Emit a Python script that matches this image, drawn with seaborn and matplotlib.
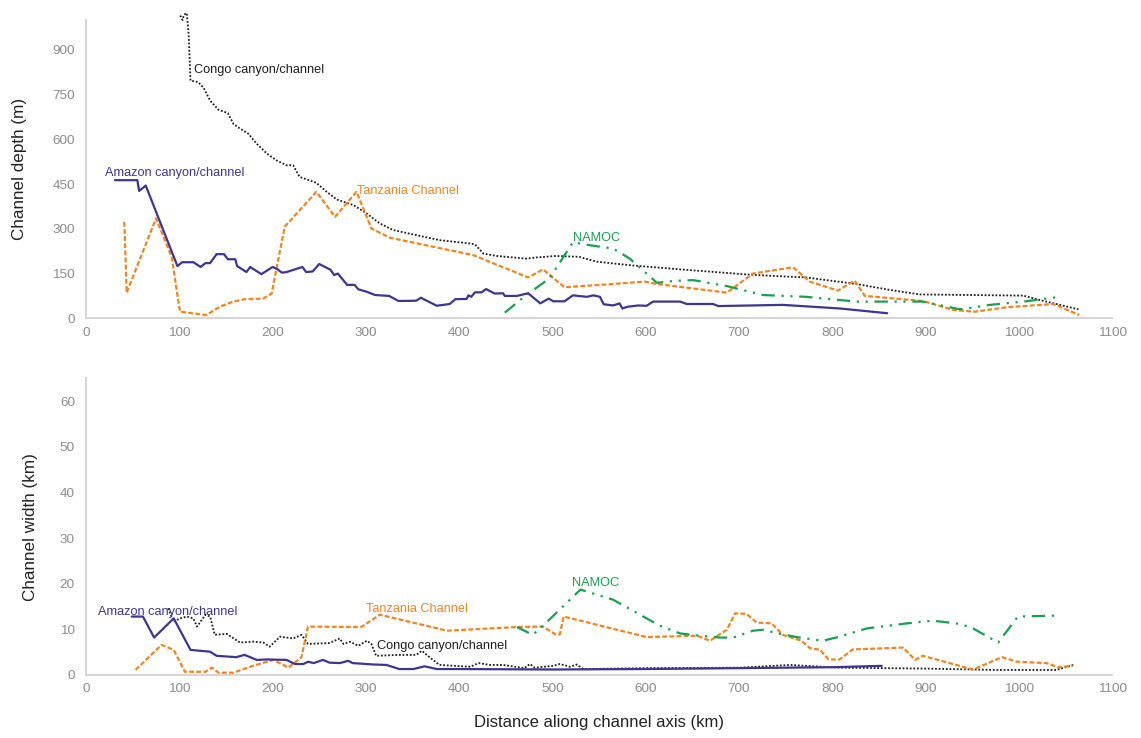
import matplotlib
matplotlib.use("Agg")
import matplotlib.pyplot as plt
import seaborn as sns
import pandas as pd

# ---------------- data ----------------
amazon_depth_x = [31, 55, 57, 64, 98, 103, 115, 123, 128, 133, 140, 148, 152, 160, 162, 172, 176, 188, 200, 205,
                  210, 215, 232, 236, 243, 250, 262, 266, 270, 280, 288, 292, 300, 310, 325, 335, 354, 359, 376, 390,
                  396, 408, 410, 413, 417, 424, 429, 438, 447, 449, 462, 474, 487, 496, 501, 513, 522, 537, 544, 551,
                  555, 565, 572, 575, 581, 592, 601, 608, 637, 644, 672, 678, 747, 808, 859]
amazon_depth_y = [463, 463, 427, 445, 175, 188, 188, 172, 185, 185, 215, 215, 198, 198, 175, 155, 172, 148, 172, 165,
                  153, 155, 172, 155, 157, 182, 163, 145, 150, 112, 112, 97, 90, 78, 75, 58, 59, 69, 42, 48,
                  64, 65, 77, 72, 87, 87, 98, 83, 84, 75, 75, 84, 50, 66, 57, 57, 77, 72, 77, 72,
                  47, 43, 50, 33, 39, 43, 42, 56, 56, 48, 48, 41, 45, 33, 17]

congo_depth_x = [101, 103.5, 105, 108, 110, 112, 120, 126, 133, 142, 152, 158, 165, 174, 183, 194, 204, 215, 222, 229,
                 247, 258, 269, 287, 301, 315, 329, 351, 379, 411, 417, 426, 440, 472, 483, 504, 529, 547, 583, 637,
                 683, 708, 737, 772, 826, 862, 894, 1005, 1023, 1064]
congo_depth_y = [1015, 1000, 1018, 1023, 954, 797, 792, 773, 730, 699, 688, 652, 636, 619, 585, 552, 530, 513, 513, 474,
                 454, 424, 398, 379, 351, 318, 296, 281, 262, 251, 248, 217, 209, 200, 204, 209, 206, 190, 178, 164,
                 153, 147, 142, 137, 115, 95, 80, 76, 61, 30]

tanzania_depth_x = [41, 43.6, 75, 92, 100.7, 129, 143.6, 158, 170, 190, 199, 213, 247, 267, 290, 306, 326, 415, 474, 490,
                    513, 565, 599, 612, 687, 715, 758, 776, 806, 824, 835, 897, 930, 953, 987, 1037, 1065]
tanzania_depth_y = [323, 86, 335, 204, 22, 11, 39, 56, 64, 66, 83, 307, 424, 340, 424, 301, 270, 212, 137, 164,
                    104, 115, 123, 115, 86, 150, 171, 123, 93, 126, 75, 58, 28, 22, 37, 48, 11]

namoc_depth_x = [449, 472, 497, 522, 540, 565, 583, 612, 633, 651, 687, 726, 772, 826, 897, 937, 969, 1005, 1044]
namoc_depth_y = [19, 78, 134, 255, 245, 234, 200, 119, 126, 128, 108, 78, 72, 56, 56, 30, 45, 56, 72]

amazon_width_x = [49, 61, 73, 94, 112, 133, 140, 161, 170, 183, 194, 215, 224, 233, 238, 244, 254, 261, 272, 281,
                  286, 308, 322, 336, 351, 363, 376, 400, 500, 600, 700, 800, 853]
amazon_width_y = [12.8, 12.8, 8.2, 12.4, 5.5, 5.1, 4.2, 3.9, 4.4, 3.3, 3.4, 3.3, 2.4, 2.4, 2.9, 2.6, 3.3, 2.7, 2.6, 3.1,
                  2.6, 2.3, 2.2, 1.3, 1.3, 1.9, 1.3, 1.3, 1.2, 1.3, 1.5, 1.7, 2.0]

congo_width_x = [88, 94, 101, 108, 115, 119, 128, 133, 138, 151, 165, 179, 190, 197, 208, 222, 231, 238, 261, 272,
                 276, 283, 292, 301, 306, 311, 336, 354, 360, 372, 379, 412, 421, 433, 447, 470, 476, 481, 501, 508,
                 519, 526, 533, 600, 701, 755, 808, 900, 976, 1040, 1060]
congo_width_y = [14.6, 11.7, 12.4, 12.8, 12.4, 10.6, 13.2, 12.8, 8.8, 9.0, 7.1, 7.3, 7.1, 6.2, 8.4, 8.0, 8.8, 6.8, 7.0, 8.0,
                 6.8, 7.3, 6.4, 7.5, 6.8, 4.2, 4.4, 4.4, 5.3, 3.3, 2.2, 1.8, 2.6, 2.2, 2.2, 1.5, 2.4, 1.6, 2.0, 2.4,
                 1.8, 2.3, 1.3, 1.5, 1.6, 2.2, 1.6, 1.4, 1.1, 1.1, 2.3]

tanzania_width_x = [53, 81, 94, 106, 128, 135, 142, 158, 179, 201, 217, 231, 238, 295, 315, 387, 462, 490, 504, 508,
                    512, 530, 601, 655, 669, 687, 696, 708, 719, 735, 747, 767, 776, 787, 796, 808, 822, 876, 889, 897,
                    951, 982, 998, 1030, 1042, 1058]
tanzania_width_y = [1.1, 6.6, 5.5, 0.7, 0.7, 1.6, 0.5, 0.5, 2.0, 3.3, 1.6, 3.9, 10.6, 10.5, 13.2, 9.7, 10.5, 10.6, 8.8, 8.9,
                    12.8, 11.9, 8.3, 8.6, 7.5, 9.9, 13.5, 13.4, 11.5, 11.3, 8.8, 7.5, 5.9, 5.5, 3.4, 3.4, 5.6, 6.0, 3.3, 4.2,
                    1.2, 3.9, 2.9, 2.6, 1.7, 2.0]

namoc_width_x = [462, 479, 490, 530, 565, 594, 615, 637, 658, 680, 694, 715, 726, 744, 765, 790, 808, 837, 880, 908,
                 937, 951, 978, 999, 1039]
namoc_width_y = [10.5, 8.8, 10.8, 18.7, 16.5, 13.2, 10.8, 9.1, 8.6, 8.2, 8.2, 9.7, 9.9, 9.0, 8.2, 7.5, 8.4, 10.2, 11.3, 11.9,
                 11.2, 10.2, 7.1, 12.8, 13.0]

depth_ticks = [0, 150, 300, 450, 600, 750, 900]
width_ticks = [0, 10, 20, 30, 40, 50, 60]
x_ticks = [0, 100, 200, 300, 400, 500, 600, 700, 800, 900, 1000, 1100]

label_amazon = "Amazon canyon/channel"
label_congo = "Congo canyon/channel"
label_tanzania = "Tanzania Channel"
label_namoc = "NAMOC"

# ---------------- style ----------------
sns.set_theme(style="white")
plt.rcParams['font.family'] = ['Liberation Sans', 'DejaVu Sans']

C_AMAZON = "#3d3592"
C_CONGO = "#1e1e1e"
C_TANZ = "#f4841f"
C_NAMOC = "#17a050"
GRID_GREY = "#d6d6d6"
TICK_GREY = "#8c8c8c"

styles = {
    "amazon": dict(color=C_AMAZON, lw=1.6, dashes=None),
    "congo": dict(color=C_CONGO, lw=1.3, dashes=(1.0, 1.0)),
    "tanz": dict(color=C_TANZ, lw=1.6, dashes=(2.2, 1.0)),
    "namoc": dict(color=C_NAMOC, lw=1.6, dashes=(6, 3, 1, 3, 1, 3)),
}

fig = plt.figure(figsize=(11.41, 7.38), dpi=100)
ax1 = fig.add_axes([0.0754, 0.5687, 0.8992, 0.4042])
ax2 = fig.add_axes([0.0754, 0.0854, 0.8992, 0.4020])


def draw(ax, xs, ys, key):
    st = styles[key]
    df = pd.DataFrame({"x": xs, "y": ys})
    sns.lineplot(data=df, x="x", y="y", ax=ax, sort=False, estimator=None,
                 color=st["color"], linewidth=st["lw"], clip_on=False)
    line = ax.lines[-1]
    if st["dashes"] is not None:
        line.set_dashes(st["dashes"])


draw(ax1, congo_depth_x, congo_depth_y, "congo")
draw(ax1, tanzania_depth_x, tanzania_depth_y, "tanz")
draw(ax1, namoc_depth_x, namoc_depth_y, "namoc")
draw(ax1, amazon_depth_x, amazon_depth_y, "amazon")

draw(ax2, congo_width_x, congo_width_y, "congo")
draw(ax2, tanzania_width_x, tanzania_width_y, "tanz")
draw(ax2, namoc_width_x, namoc_width_y, "namoc")
draw(ax2, amazon_width_x, amazon_width_y, "amazon")

for ax in (ax1, ax2):
    ax.set_xlim(0, 1100)
    ax.set_xticks(x_ticks)
    sns.despine(ax=ax)
    for s in ("left", "bottom"):
        ax.spines[s].set_color(GRID_GREY)
        ax.spines[s].set_linewidth(1.5)
    ax.tick_params(axis="both", which="both", direction="in", color=GRID_GREY,
                   labelcolor=TICK_GREY, labelsize=9.7, length=4, width=1)
    ax.tick_params(axis="x", pad=6)
    ax.tick_params(axis="y", pad=8)

ax1.set_ylim(0, 1000)
ax1.set_yticks(depth_ticks)
ax2.set_ylim(0, 65)
ax2.set_yticks(width_ticks)
ax2.set_yticks(list(range(5, 65, 10)), minor=True)
ax2.tick_params(axis="y", which="minor", direction="in", color=GRID_GREY, length=3, width=1)

ax1.set_xlabel("")
ax1.set_ylabel("Channel depth (m)", fontsize=12.3, color="#222222", labelpad=18)
ax2.set_ylabel("Channel width (km)", fontsize=12.3, color="#222222", labelpad=16)
ax2.set_xlabel("Distance aliong channel axis (km)", fontsize=12, color="#222222", labelpad=14)

fs = 9.2
ax1.text(116, 834, label_congo, color=C_CONGO, fontsize=fs, va="center", ha="left")
ax1.text(20, 486, label_amazon, color=C_AMAZON, fontsize=fs, va="center", ha="left")
ax1.text(290, 426, label_tanzania, color=C_TANZ, fontsize=fs, va="center", ha="left")
ax1.text(522, 269, label_namoc, color=C_NAMOC, fontsize=fs, va="center", ha="left")

ax2.text(13, 13.8, label_amazon, color=C_AMAZON, fontsize=fs, va="center", ha="left")
ax2.text(300, 14.5, label_tanzania, color=C_TANZ, fontsize=fs, va="center", ha="left")
ax2.text(312, 6.4, label_congo, color=C_CONGO, fontsize=fs, va="center", ha="left")
ax2.text(521, 20.2, label_namoc, color=C_NAMOC, fontsize=fs, va="center", ha="left")

fig.savefig("out.png", dpi=100)
